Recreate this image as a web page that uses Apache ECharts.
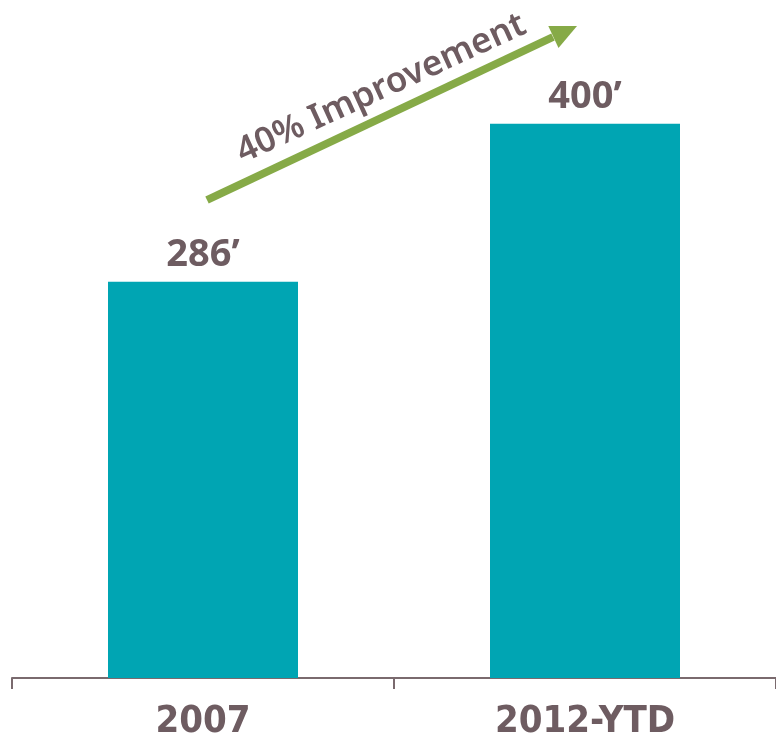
<!DOCTYPE html>
<html><head><meta charset="utf-8">
<script src="https://cdn.jsdelivr.net/npm/echarts@6/dist/echarts.min.js"></script>
<style>html,body{margin:0;padding:0;background:#fff}#c{width:776px;height:741px}</style>
</head><body><div id="c"></div>
<script>
const categories = ['2007', '2012-YTD'];
const values = [286, 400];
const valueLabels = ['286’', '400’'];
const annotationText = '40% Improvement';

const textColor = '#6E5C61';
const chart = echarts.init(document.getElementById('c'));
chart.setOption({
  animation: false,
  grid: { left: 12, right: -6, top: 13, bottom: 59 },
  xAxis: {
    type: 'category', data: categories,
    axisLine: { lineStyle: { color: '#7A6A6E', width: 2 } },
    axisTick: { show: true, length: 11, lineStyle: { color: '#7A6A6E', width: 2 } },
    axisLabel: { color: textColor, fontFamily: '"DejaVu Sans Condensed", "DejaVu Sans", sans-serif', fontWeight: 'bold', fontSize: 38, margin: 25 }
  },
  yAxis: { type: 'value', min: 0, max: 480, show: false, splitLine: { show: false } },
  series: [{
    type: 'bar', data: values, barWidth: 190,
    itemStyle: { color: '#00A5B3' },
    label: { show: true, position: 'top', distance: 8,
      formatter: p => valueLabels[p.dataIndex],
      color: textColor, fontFamily: 'Noto Sans', fontWeight: 'bold', fontSize: 38 }
  }],
  graphic: [
    { type: 'line', shape: { x1: 207, y1: 200, x2: 553, y2: 37 }, style: { stroke: '#86AA47', lineWidth: 8 } },
    { type: 'polygon', shape: { points: [[577, 26], [558.5, 48], [548.3, 26]] }, style: { fill: '#86AA47' } },
    { type: 'text', x: 246, y: 170, rotation: 0.43,
      style: { text: annotationText, fill: textColor, font: '600 35px "Noto Sans"', textAlign: 'left', textVerticalAlign: 'bottom' } }
  ]
});
</script></body></html>
